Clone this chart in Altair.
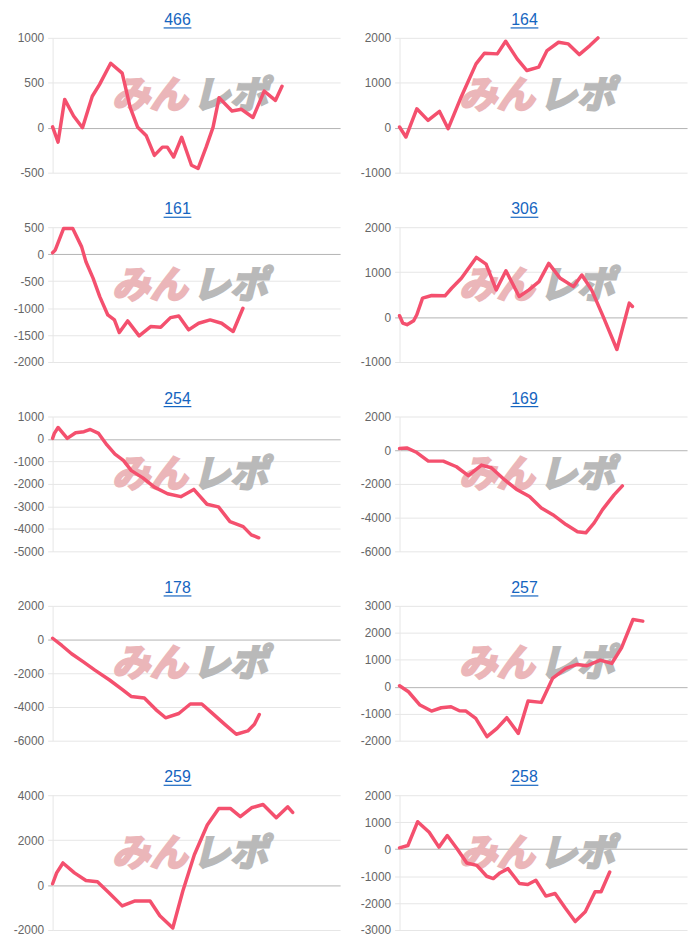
import altair as alt
import pandas as pd

TITLES = ["466", "164", "161", "306", "254", "169", "178", "257", "259", "258"]
Y_MIN = [-500, -1000, -2000, -1000, -5000, -6000, -6000, -2000, -2000, -3000]
Y_MAX = [1000, 2000, 500, 2000, 1000, 2000, 2000, 3000, 4000, 2000]
Y_STEP = [500, 1000, 500, 1000, 1000, 2000, 2000, 1000, 2000, 1000]

# x: position along the (unlabelled) horizontal axis, 0-100
X_466 = [0, 1.9, 4.2, 7.3, 10.4, 13.8, 16.3, 20.2, 24.2, 27, 29.6, 32.6, 35.4, 38.2, 39.9, 42.1, 44.9, 48.3, 50.6, 53.4, 55.8, 57.9, 62.4, 65.7, 69.7, 73.6, 77.5, 79.8]
Y_466 = [10, -160, 315, 130, 0, 350, 480, 718, 608, 223, 5, -90, -308, -216, -216, -326, -106, -418, -454, -216, 4, 333, 187, 205, 114, 407, 304, 461]

X_164 = [0, 2.2, 6, 9.9, 13.9, 16.9, 21.4, 26.6, 29.5, 34, 36.9, 40.9, 44.3, 48.4, 51.3, 55.3, 58.7, 62.5, 66.2, 69]
Y_164 = [15, -207, 422, 163, 363, -22, 680, 1420, 1658, 1643, 1924, 1532, 1273, 1347, 1717, 1902, 1865, 1628, 1828, 1998]

X_161 = [0, 0.9, 3.8, 7, 10.1, 11.6, 14.1, 16.4, 19.2, 21.5, 23.2, 26.1, 30.1, 34.1, 37.6, 41, 43.9, 47.3, 50.8, 54.8, 58.8, 62.8, 66.2]
Y_161 = [25, 74, 474, 474, 135, -142, -450, -788, -1127, -1220, -1454, -1238, -1515, -1343, -1355, -1177, -1146, -1404, -1281, -1220, -1281, -1435, -1004]

X_306 = [0, 1.1, 2.6, 4.9, 6, 8, 11.2, 15.8, 18.1, 21.5, 26.7, 30.1, 33.6, 37, 41.6, 45, 48.5, 51.9, 55.9, 60.5, 63.4, 66.8, 70.8, 75.6, 79.9, 81]
Y_306 = [30, -133, -170, -81, 52, 420, 479, 472, 641, 862, 1327, 1179, 604, 1032, 457, 604, 789, 1194, 862, 678, 936, 604, 15, -722, 310, 236]

X_254 = [0, 0.6, 1.9, 5.1, 8, 10.9, 13.1, 16, 18.9, 21.7, 24.6, 27.4, 31.4, 35.4, 40, 44.6, 49.1, 53.7, 57.7, 61.7, 66.3, 69.1, 71.7]
Y_254 = [29, 249, 513, 29, 279, 323, 425, 249, -264, -674, -953, -1407, -1730, -2140, -2434, -2566, -2243, -2903, -3020, -3680, -3900, -4266, -4398]

X_169 = [0, 2.5, 6, 10, 15.2, 19.8, 23.9, 28.5, 31.9, 36.6, 40.6, 45.2, 49.3, 53.3, 57.9, 61.9, 64.8, 67.7, 70.6, 74.6, 77.5]
Y_169 = [98, 137, -137, -647, -647, -980, -1509, -882, -1039, -1764, -2313, -2744, -3430, -3822, -4410, -4841, -4900, -4312, -3528, -2646, -2117]

X_178 = [0, 3.2, 6.6, 10.7, 14.7, 19.8, 24.4, 27.3, 31.9, 35.9, 39.3, 43.9, 47.9, 51.9, 55.4, 59.9, 63.9, 67.9, 70.2, 71.9]
Y_178 = [78, -351, -839, -1326, -1814, -2399, -2984, -3374, -3471, -4154, -4641, -4388, -3822, -3822, -4349, -5031, -5616, -5421, -5031, -4446]

X_257 = [0, 3.1, 7.1, 11.1, 14.5, 17.9, 20.8, 23.1, 26.5, 30.4, 33.9, 37.3, 41.3, 44.7, 49.3, 53.2, 57.8, 61.8, 65.2, 69.8, 73.8, 77.2, 81.2, 84.6]
Y_257 = [37, -185, -679, -901, -778, -741, -889, -901, -1173, -1852, -1543, -1148, -1729, -531, -580, 309, 679, 827, 778, 988, 864, 1445, 2495, 2433]

X_259 = [0, 1.4, 3.6, 7.6, 11.6, 15.6, 19.6, 24.2, 28.7, 33.9, 37.3, 41.8, 45.3, 49.3, 53.8, 57.8, 61.8, 65.3, 69.2, 73.2, 77.8, 81.8, 83.5]
Y_259 = [59, 544, 985, 544, 206, 147, -338, -926, -706, -706, -1367, -1911, -265, 1352, 2675, 3410, 3410, 3043, 3440, 3587, 2999, 3484, 3234]

X_258 = [0, 2.9, 6.3, 10.3, 13.7, 16.6, 20, 23.4, 26.9, 30.3, 32.6, 34.9, 37.7, 41.7, 44.6, 47.4, 50.9, 54.1, 57.7, 61.1, 64.6, 68, 70.1, 73.1]
Y_258 = [49, 135, 1018, 626, 74, 503, 12, -515, -601, -1006, -1092, -883, -724, -1276, -1313, -1153, -1742, -1644, -2196, -2687, -2319, -1583, -1583, -847]

SERIES_X = [X_466, X_164, X_161, X_306, X_254, X_169, X_178, X_257, X_259, X_258]
SERIES_Y = [Y_466, Y_164, Y_161, Y_306, Y_254, Y_169, Y_178, Y_257, Y_259, Y_258]

LINE_COLOR = "#f4506e"
LINK_COLOR = "#1565c0"
GRID = "#e6e6e6"
ZERO = "#b3b3b3"
WM_PINK = "#ebb6b9"
WM_GRAY = "#b9b9b9"


def panel(title, xs, ys, lo, hi, step):
    df = pd.DataFrame({"x": xs, "y": ys})
    one = pd.DataFrame({"k": [0]})
    cond = {"condition": {"test": "datum.value === 0", "value": ZERO}, "value": GRID}
    y = alt.Y(
        "y:Q",
        scale=alt.Scale(domain=[lo, hi], nice=False, zero=False),
        axis=alt.Axis(
            values=list(range(lo, hi + 1, step)),
            title=None,
            grid=True,
            gridColor=cond,
            tickColor=cond,
            domainColor=GRID,
            tickSize=5,
            labelPadding=4,
            labelFont="Liberation Sans",
            labelFontSize=12,
            labelColor="#666666",
            labelExpr="'' + datum.value",
        ),
    )
    x = alt.X("x:Q", scale=alt.Scale(domain=[0, 100], nice=False), axis=None)
    line = alt.Chart(df).mark_line(
        color=LINE_COLOR, strokeWidth=3.5, strokeJoin="round", strokeCap="round"
    ).encode(x=x, y=y)
    wm1 = alt.Chart(one).mark_text(
        text="みん", font="Noto Sans CJK JP", fontSize=38, fontWeight="bold",
        fontStyle="italic", color=WM_PINK, stroke=WM_PINK, strokeWidth=2.5,
        align="left", baseline="middle",
    ).encode(x=alt.value(60), y=alt.value(60))
    wm2 = alt.Chart(one).mark_text(
        text="レポ", font="Noto Sans CJK JP", fontSize=38, fontWeight="bold",
        fontStyle="italic", color=WM_GRAY, stroke=WM_GRAY, strokeWidth=2.5,
        align="left", baseline="middle",
    ).encode(x=alt.value(141), y=alt.value(60))
    ttl = alt.Chart(one).mark_text(
        text=title, font="Liberation Sans", fontSize=16, color=LINK_COLOR,
        align="center", baseline="middle",
    ).encode(x=alt.value(126), y=alt.value(-18))
    ul = alt.Chart(one).mark_rule(color=LINK_COLOR, strokeWidth=1.2).encode(
        x=alt.value(112), x2=alt.value(140), y=alt.value(-10)
    )
    return alt.layer(wm1, wm2, line, ttl, ul).properties(width=290, height=136)


panels = [
    panel(t, xs, ys, lo, hi, st)
    for t, xs, ys, lo, hi, st in zip(TITLES, SERIES_X, SERIES_Y, Y_MIN, Y_MAX, Y_STEP)
]

chart = (
    alt.concat(*panels, columns=2, spacing={"row": 23, "column": 20})
    .properties(padding={"top": 0, "left": 5, "right": 5, "bottom": 5})
    .configure_view(strokeWidth=0)
)

chart.save("out.html", embed_options={"renderer": "svg", "actions": False})
